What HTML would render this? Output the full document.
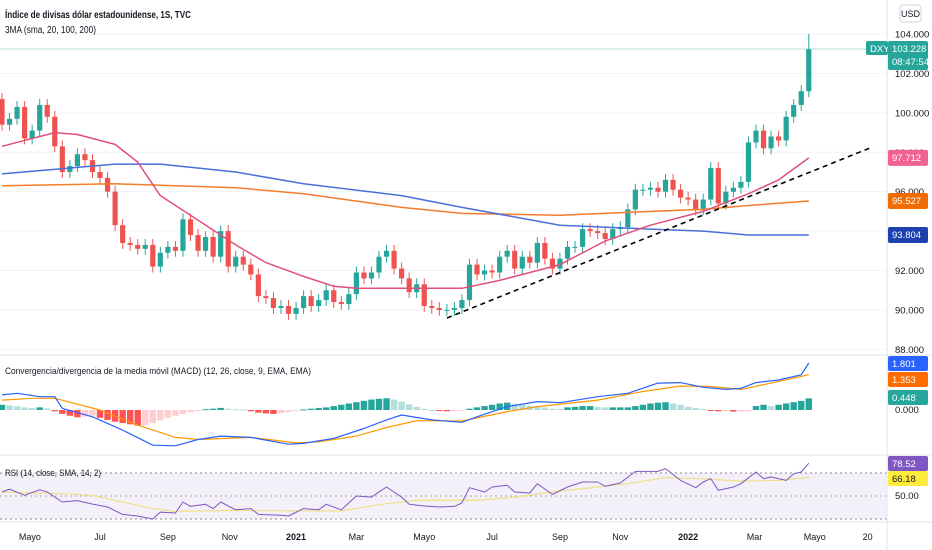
<!DOCTYPE html>
<html><head><meta charset="utf-8"><style>
html,body{margin:0;padding:0;background:#fff;}
svg{display:block;font-family:"Liberation Sans",sans-serif;}
</style></head><body>
<svg id="chart" width="932" height="550" viewBox="0 0 932 550" xmlns="http://www.w3.org/2000/svg">
<rect x="0" y="0" width="932" height="550" fill="#fff"/>
<g id="grid"></g>
<rect x="0" y="473" width="887" height="46" fill="#7e57c2" fill-opacity="0.09"/>
<line x1="0" y1="473" x2="887" y2="473" stroke="#888" stroke-dasharray="2,3"/>
<line x1="0" y1="496" x2="887" y2="496" stroke="#aaa" stroke-dasharray="2,3"/>
<line x1="0" y1="519" x2="887" y2="519" stroke="#888" stroke-dasharray="2,3"/>
<line x1="0" y1="49" x2="887" y2="49" stroke="#26a69a" stroke-opacity="0.35"/>
<g id="price"></g>
<g id="macd"></g>
<g id="rsi"></g>
<line x1="447" y1="318" x2="870" y2="148" stroke="#000" stroke-width="1.6" stroke-dasharray="5,4"/>
<line x1="0" y1="355" x2="932" y2="355" stroke="#e0e3eb"/>
<line x1="0" y1="455" x2="932" y2="455" stroke="#e0e3eb"/>
<line x1="0" y1="522" x2="932" y2="522" stroke="#e0e3eb"/>
<line x1="887" y1="0" x2="887" y2="550" stroke="#e0e3eb"/>
<text x="5" y="18" font-size="10.5" font-weight="bold" fill="#131722" textLength="186" lengthAdjust="spacingAndGlyphs">Índice de divisas dólar estadounidense, 1S, TVC</text>
<text x="5" y="33" font-size="10" fill="#131722" textLength="91" lengthAdjust="spacingAndGlyphs">3MA (sma, 20, 100, 200)</text>
<text x="5" y="374" font-size="9.5" fill="#131722" textLength="306" lengthAdjust="spacingAndGlyphs">Convergencia/divergencia de la media móvil (MACD) (12, 26, close, 9, EMA, EMA)</text>
<text x="5" y="476" font-size="9.5" fill="#131722" textLength="96" lengthAdjust="spacingAndGlyphs">RSI (14, close, SMA, 14, 2)</text>
<rect x="900" y="5" width="21" height="17" rx="3" fill="#fff" stroke="#d1d4dc"/>
<text x="910.5" y="17" font-size="9" text-anchor="middle" fill="#131722">USD</text>
<g id="axis"></g>
</svg>
<script>
const closes=[99.4,99.7,100.3,98.7,99.1,100.4,99.8,98.3,97.0,97.3,97.9,97.6,97.0,96.7,96.0,94.3,93.4,93.3,93.1,93.3,92.2,92.9,93.2,93.0,94.6,93.8,93.0,93.7,92.7,94.0,92.2,92.7,92.3,91.8,90.7,90.6,90.1,90.2,89.8,90.1,90.7,90.2,90.5,91.0,90.4,90.3,90.8,91.9,91.6,91.9,92.7,93.0,92.1,91.6,90.9,91.3,90.2,90.1,90.0,90.0,90.1,90.5,92.3,91.8,92.0,91.9,92.7,93.0,92.1,92.7,92.4,93.4,92.6,92.1,92.6,93.2,93.2,94.1,94.0,93.9,93.6,94.1,94.2,95.1,96.1,96.1,96.2,96.0,96.6,96.1,95.7,95.6,95.1,95.6,97.2,95.4,96.0,96.2,96.5,98.5,99.1,98.2,98.8,98.6,99.8,100.4,101.1,103.228];
const firstOpen=100.7;
const maIdx=[0,7,10,15,18,21,25,31,35,40,44,47,53,57,61,66,74,80,86,93,99,103,107];
const ma20=[98.3,99.0,98.9,98.4,97.5,95.8,94.8,93.3,92.4,91.7,91.2,91.1,91.1,91.1,91.1,91.5,92.3,93.5,94.3,95.0,95.9,96.6,97.712];
const ma100Idx=[0,15,21,31,40,53,61,74,86,93,99,107];
const ma100=[96.9,97.4,97.4,97.0,96.4,95.8,95.2,94.3,94.1,94.0,93.8,93.804];
const ma200Idx=[0,15,31,40,53,61,74,86,93,99,107];
const ma200=[96.3,96.4,96.2,95.9,95.2,94.9,94.8,95.0,95.1,95.3,95.527];
const macdIdx=[0,2,5,7,8,12,16,20,23,26,29,33,38,40,44,48,51,53,57,61,63,67,71,74,79,83,87,90,93,96,98,100,103,106,107];
const macdVals=[0.58,0.64,0.51,0.51,0.06,-0.26,-0.77,-1.35,-1.37,-1.13,-1.0,-1.05,-1.31,-1.28,-1.09,-0.71,-0.38,-0.19,-0.38,-0.47,-0.26,0.13,0.32,0.28,0.51,0.64,1.03,1.05,0.87,0.79,0.83,1.05,1.15,1.35,1.801];
const sigIdx=[0,4,7,13,18,23,26,33,39,42,47,51,55,61,67,71,79,85,90,94,98,102,107];
const sigVals=[0.38,0.45,0.45,0,-0.58,-1.05,-1.13,-1.05,-1.26,-1.22,-1.0,-0.67,-0.41,-0.42,-0.06,0.13,0.38,0.71,0.92,0.90,0.79,1.03,1.353];
const hist=[0.2,0.18,0.15,0.1,0.08,0.1,0.06,-0.05,-0.15,-0.22,-0.28,-0.25,-0.22,-0.3,-0.38,-0.45,-0.5,-0.55,-0.6,-0.58,-0.5,-0.4,-0.3,-0.22,-0.15,-0.08,-0.03,0.03,0.05,0.08,0.05,0.03,0.02,-0.05,-0.1,-0.13,-0.15,-0.12,-0.08,-0.03,0.02,0.05,0.08,0.1,0.15,0.2,0.25,0.3,0.35,0.4,0.43,0.45,0.4,0.32,0.22,0.12,0.05,0.0,-0.04,-0.05,-0.04,-0.02,0.05,0.1,0.15,0.2,0.25,0.28,0.24,0.2,0.15,0.12,0.1,0.05,0.04,0.1,0.12,0.15,0.15,0.12,0.1,0.1,0.1,0.1,0.15,0.2,0.25,0.28,0.3,0.25,0.2,0.12,0.08,0.04,-0.02,-0.05,-0.03,-0.06,-0.06,-0.05,0.15,0.2,0.15,0.2,0.25,0.3,0.35,0.448];
const rsiIdx=[0,1,3,5,6,8,10,12,14,16,18,20,21,23,24,25,27,28,29,31,33,34,37,38,40,42,43,45,47,49,51,53,54,56,58,60,61,62,64,65,67,68,70,71,73,75,77,79,80,82,84,87,88,90,92,93,94,95,97,98,100,101,102,104,105,106,107];
const rsiVals=[53.5,56,50.6,55.5,53.5,44.8,46,43,40.4,34,32.6,30,36,35.2,44.8,41,42.8,39,44.8,38,39,34,33.2,32.6,39,38,42.8,38,50,49,57.8,49,42.8,41.3,40.4,41,44,57.2,53.5,57.8,59.3,53.5,52.6,60.7,51.4,57.8,62.2,62.2,58.4,61.3,71.4,71.4,73.8,63.6,57.2,62.2,65.1,54.9,57.8,60.7,70.9,65.1,66.5,63.6,69.4,70.9,78.52];
const rsiMaIdx=[0,8,12,16,20,23,31,39,45,51,55,63,68,73,79,83,88,93,98,103,107];
const rsiMaVals=[53.5,52,50.6,44.8,39,36.7,37.5,37,37,43.3,46.2,46.2,49,53.5,57.8,60.7,66,65,63,63.6,66.18];
const priceTicks=["104.000","102.000","100.000","98.000","96.000","94.000","92.000","90.000","88.000"];
const priceTickVals=[104,102,100,98,96,94,92,90,88];
const timeLabels=["Mayo","Jul","Sep","Nov","2021","Mar","Mayo","Jul","Sep","Nov","2022","Mar","Mayo","20"];
const timeIdx=[3.7,13,22,30.2,39,47,56,65,74,82,91,99.8,107.8,114.8];

const NS="http://www.w3.org/2000/svg";
const xS=i=>2+i*7.54;
const yP=p=>34+(104-p)*19.71;
const yM=v=>410-v*26.1;
const yR=v=>496-(v-50)*1.15;
function mk(parent,tag,attrs){const e=document.createElementNS(NS,tag);for(const k in attrs)e.setAttribute(k,attrs[k]);parent.appendChild(e);return e;}
const G=document.getElementById('grid'),P=document.getElementById('price'),M=document.getElementById('macd'),R=document.getElementById('rsi'),A=document.getElementById('axis');

priceTickVals.forEach((v,k)=>{
  const l=mk(G,'line',{x1:0,x2:887,y1:yP(v),y2:yP(v),stroke:'#f0f3fa'});
  
  
  const t=mk(A,'text',{x:895,y:yP(v)+3.5,'font-size':9.5,fill:'#131722'});
  t.textContent=priceTicks[k];
  
  
});
timeLabels.forEach((s,k)=>{
  const t=mk(A,'text',{x:xS(timeIdx[k]),y:540,'font-size':9,'text-anchor':'middle',fill:'#131722','font-weight':(s==='2021'||s==='2022')?'bold':'normal'});
  t.textContent=s;
  
  
});

closes.forEach((c,i)=>{
  const o=i===0?firstOpen:closes[i-1];
  const up=c>=o, col=up?'#26a69a':'#ef5350';
  const hi=i===closes.length-1?104.0:Math.max(o,c)+0.3, lo=Math.min(o,c)-0.3;
  const x=xS(i);
  const w=mk(P,'line',{x1:x,x2:x,y1:yP(hi),y2:yP(lo),stroke:col,'stroke-width':1});
  
  
  const top=yP(Math.max(o,c)), h=Math.max(1,yP(Math.min(o,c))-top);
  const b=mk(P,'rect',{x:x-2.6,y:top,width:5.2,height:h,fill:col});
  
  
});
function line(parent,idx,vals,ys,col,name,w){
  const d=idx.map((i,k)=>(k?'L':'M')+xS(i).toFixed(1)+','+ys(vals[k]).toFixed(1)).join('');
  const p=mk(parent,'path',{d:d,fill:'none',stroke:col,'stroke-width':w||1.5,'stroke-linejoin':'round'});
  
  
}
line(P,ma200Idx,ma200,yP,'#f57c2a','sma-200-line');
line(P,ma100Idx,ma100,yP,'#4a6fd6','sma-100-line');
line(P,maIdx,ma20,yP,'#e0507a','sma-20-line');

hist.forEach((v,i)=>{
  const prev=i?hist[i-1]:0;
  let col;
  if(v>=0) col=v>=prev?'#26a69a':'#b2dfdb'; else col=v<prev?'#ff5252':'#ffcdd2';
  const y0=yM(0), y1=yM(v);
  const r=mk(M,'rect',{x:xS(i)-3.2,y:Math.min(y0,y1),width:6.4,height:Math.max(1,Math.abs(y1-y0)),fill:col});
  
  
});
line(M,sigIdx,sigVals,yM,'#ff9800','macd-signal-line',1.2);
line(M,macdIdx,macdVals,yM,'#2962ff','macd-line',1.2);
line(R,rsiMaIdx,rsiMaVals,yR,'#f0e08a','rsi-ma-line',1.2);
line(R,rsiIdx,rsiVals,yR,'#7e57c2','rsi-line',1);

function badge(y,h,bg,fg,txt,name,x,w){
  const r=mk(A,'rect',{x:x||888,y:y,width:w||40,height:h,fill:bg,rx:2});
  
  
  const lines=txt.split('|');
  lines.forEach((s,k)=>{
    const t=mk(A,'text',{x:(x||888)+4,y:y+11+k*13,'font-size':9.5,fill:fg});
    t.textContent=s;
    
    
  });
}
badge(41,14,'#26a69a','#fff','DXY','symbol',866,22);
badge(41,29,'#26a69a','#fff','103.228|08:47:54','last-price');
badge(yP(97.712)-8,16,'#f06292','#fff','97.712','sma-20-value');
badge(yP(95.527)-8,16,'#ef6c00','#fff','95.527','sma-200-value');
badge(yP(93.804)-8,16,'#1e40af','#fff','93.804','sma-100-value');
badge(356,15,'#2962ff','#fff','1.801','macd-value');
badge(372,15,'#ff6d00','#fff','1.353','signal-value');
badge(390,15,'#26a69a','#fff','0.448','histogram-value');
badge(456,15,'#7e57c2','#fff','78.52','rsi-value');
badge(471,15,'#ffeb3b','#131722','66.18','rsi-ma-value');
[['0.000',413],['50.00',499]].forEach(a=>{
  const t=mk(A,'text',{x:895,y:a[1],'font-size':9.5,fill:'#131722'});
  t.textContent=a[0];
  
  
});
</script>
</body></html>
